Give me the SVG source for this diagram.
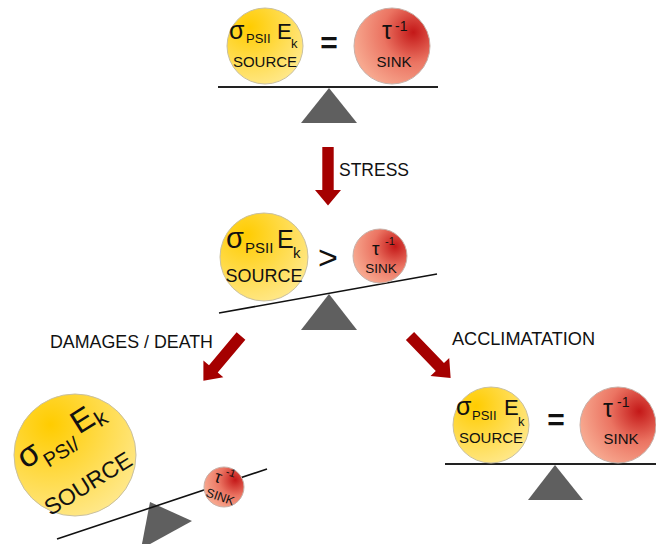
<svg xmlns="http://www.w3.org/2000/svg" width="656" height="544" viewBox="0 0 656 544">
<defs>
<radialGradient id="gSrc" cx="0.3" cy="0.25" r="0.85">
<stop offset="0" stop-color="#ffcc00"/>
<stop offset="1" stop-color="#ffe98f"/>
</radialGradient>
<radialGradient id="gSink" cx="0.78" cy="0.32" r="0.8">
<stop offset="0" stop-color="#c41818"/>
<stop offset="0.5" stop-color="#eb7462"/>
<stop offset="1" stop-color="#f7a88f"/>
</radialGradient>
<path id="arrow" d="M-5.7,0 H5.7 V43 H13 L0,58.5 L-13,43 H-5.7 Z"/>
</defs>
<style>
text{font-family:"Liberation Sans",Arial,sans-serif;fill:#111}
.src{fill:url(#gSrc);stroke:#c9c0a0;stroke-width:1}
.snk{fill:url(#gSink);stroke:#c8b0a8;stroke-width:1}
.beam{stroke:#222;stroke-width:2;fill:none}
.beam2{stroke:#111;stroke-width:1.6;fill:none}
.ful{fill:#5f5f5f}
.arr{fill:#a50000}
.lbl{font-size:17.5px}
.mid{text-anchor:middle}
.op{text-anchor:middle;font-weight:bold}
</style>

<g id="connectors">
<use href="#arrow" class="arr" transform="translate(328,147)"/>
<use href="#arrow" class="arr" transform="translate(241,336) rotate(40)"/>
<use href="#arrow" class="arr" transform="translate(410,336) rotate(-44)"/>
</g>

<g id="label-stress"><text class="lbl" x="339" y="176" textLength="70" lengthAdjust="spacingAndGlyphs">STRESS</text></g>
<g id="label-damages"><text class="lbl" x="50" y="348" textLength="163" lengthAdjust="spacingAndGlyphs">DAMAGES / DEATH</text></g>
<g id="label-acclimatation"><text class="lbl" x="452" y="345" textLength="143" lengthAdjust="spacingAndGlyphs">ACCLIMATATION</text></g>

<g id="balance-top">
<polygon class="ful" points="329,88 301,123 357,123"/>
<line class="beam" x1="218" y1="87" x2="438" y2="87"/>
<circle class="src" cx="265" cy="46" r="38"/>
<text x="229" y="39" font-size="25">σ</text>
<text x="246" y="43" font-size="13">PSII</text>
<text x="277" y="39" font-size="22">E</text>
<text x="291" y="48" font-size="13">k</text>
<text class="mid" x="265" y="67" font-size="15">SOURCE</text>
<text class="op" x="329" y="53" font-size="30">=</text>
<circle class="snk" cx="392" cy="46" r="38"/>
<text x="382" y="39" font-size="25">τ</text>
<text x="395" y="31" font-size="14">-1</text>
<text class="mid" x="394" y="67" font-size="15">SINK</text>
</g>

<g id="balance-middle">
<polygon class="ful" points="329,294 301,330 357,330"/>
<line class="beam2" x1="219" y1="313" x2="437" y2="274"/>
<circle class="src" cx="264" cy="257" r="44"/>
<text x="226" y="248" font-size="29">σ</text>
<text x="245" y="253" font-size="15">PSII</text>
<text x="277" y="248" font-size="25">E</text>
<text x="293" y="258" font-size="15">k</text>
<text class="mid" x="264" y="282" font-size="18">SOURCE</text>
<text class="mid" x="328" y="269" font-size="34">&gt;</text>
<circle class="snk" cx="380" cy="256" r="27"/>
<text x="372" y="255" font-size="19">τ</text>
<text x="385" y="245" font-size="11">-1</text>
<text class="mid" x="381" y="273" font-size="13.5">SINK</text>
</g>

<g id="balance-damages">
<polygon class="ful" points="150,502 192,521 141,549"/>
<line class="beam2" x1="57" y1="539" x2="267" y2="469"/>
<circle class="src" cx="75" cy="455" r="61"/>
<g transform="rotate(-32 75 455)">
<text x="25" y="441" font-size="34">σ</text>
<text x="46" y="452" font-size="20">PSI/</text>
<text x="89" y="440" font-size="32">E</text>
<text x="111" y="445" font-size="22">k</text>
<text class="mid" x="71" y="494" font-size="23">SOURCE</text>
</g>
<circle class="snk" cx="224" cy="487" r="20"/>
<g transform="rotate(19 224 487)">
<text x="212" y="485" font-size="17">τ</text>
<text x="221" y="475" font-size="11">-1</text>
<text class="mid" x="223.6" y="501.6" font-size="12.5">SINK</text>
</g>
</g>

<g id="balance-acclimatation">
<polygon class="ful" points="555,465 528,500 583,500"/>
<line class="beam" x1="445" y1="464" x2="656" y2="464"/>
<circle class="src" cx="491" cy="425" r="38"/>
<text x="456" y="415" font-size="25">σ</text>
<text x="472" y="420" font-size="13">PSII</text>
<text x="504" y="415" font-size="22">E</text>
<text x="518" y="426" font-size="13">k</text>
<text class="mid" x="491" y="443" font-size="15">SOURCE</text>
<text class="op" x="556" y="430" font-size="30">=</text>
<circle class="snk" cx="618" cy="425" r="38"/>
<text x="603" y="417" font-size="25">τ</text>
<text x="617" y="407" font-size="14">-1</text>
<text class="mid" x="621" y="444" font-size="15">SINK</text>
</g>
</svg>
